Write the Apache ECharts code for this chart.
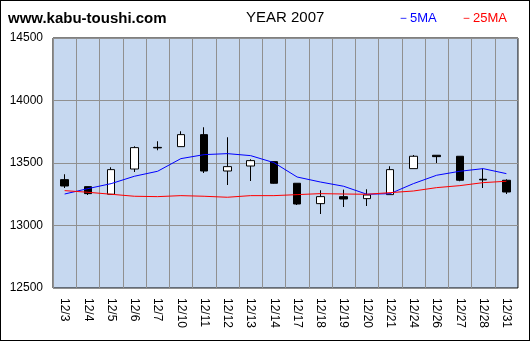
<!DOCTYPE html>
<html><head><meta charset="utf-8">
<script src="https://cdn.jsdelivr.net/npm/echarts@6/dist/echarts.min.js"></script>
<style>html,body{margin:0;padding:0;background:#fff}#c{width:530px;height:341px;box-sizing:border-box;border:1px solid #000}</style>
</head><body><div id="c"></div>
<script>
const categories = ['12/3','12/4','12/5','12/6','12/7','12/10','12/11','12/12','12/13','12/14','12/17','12/18','12/19','12/20','12/21','12/24','12/26','12/27','12/28','12/31'];
const openV  = [13367,13311,13250,13452,13625,13631,13727,13436,13476,13511,13338,13175,13231,13215,13247,13455,13562,13554,13370,13362];
const closeV = [13316,13255,13447,13623,13621,13727,13436,13471,13519,13338,13172,13231,13212,13244,13447,13554,13551,13362,13365,13268];
const lowV   = [13300,13244,13250,13428,13602,13631,13420,13324,13356,13335,13164,13092,13148,13156,13247,13455,13500,13354,13300,13252];
const highV  = [13410,13311,13466,13634,13674,13754,13786,13706,13530,13511,13338,13282,13287,13290,13474,13564,13562,13554,13455,13370];
const ma5    = [13252,13295,13335,13394,13434,13535,13567,13575,13559,13503,13388,13348,13314,13250,13255,13335,13402,13434,13455,13415];
const ma25   = [13279,13266,13250,13234,13231,13239,13234,13226,13239,13239,13247,13255,13252,13250,13263,13276,13303,13319,13343,13354];
const yTicks = [12500,13000,13500,14000,14500];

const font = '"Liberation Sans", Arial, sans-serif';
const chart = echarts.init(document.getElementById('c'), null, {renderer:'canvas'});
chart.setOption({
  animation:false,
  backgroundColor:'#fff',
  grid:{left:52,top:37,right:11,bottom:52,show:true,backgroundColor:'#c6d8f0',borderColor:'#000',borderWidth:1},
  graphic:[
    {type:'text',left:7,top:10,style:{text:'www.kabu-toushi.com',font:'bold 15px '+font,fill:'#000'}},
    {type:'text',left:245,top:9,style:{text:'YEAR 2007',font:'15px '+font,fill:'#000'}},
    {type:'text',left:396,top:11,style:{text:'－5MA',font:'13px '+font,fill:'#0000ff'}},
    {type:'text',left:459,top:11,style:{text:'－25MA',font:'13px '+font,fill:'#ff0000'}}
  ],
  xAxis:{type:'category',data:categories,boundaryGap:true,
    axisLine:{show:false},axisTick:{show:false},
    axisLabel:{rotate:-90,interval:0,margin:10,fontSize:12,fontFamily:font,color:'#000'},
    splitLine:{show:true,interval:0,lineStyle:{color:'#909090',width:1}}},
  yAxis:{type:'value',min:yTicks[0],max:yTicks[yTicks.length-1],interval:500,
    axisLine:{show:false},axisTick:{show:false},
    axisLabel:{margin:10,fontSize:12,fontFamily:font,color:'#000',formatter:v=>String(v)},
    splitLine:{show:true,lineStyle:{color:'#909090',width:1}}},
  series:[
    {type:'candlestick',barWidth:8,
      data:categories.map((c,i)=>[openV[i],closeV[i],lowV[i],highV[i]]),
      itemStyle:{color:'#ffffff',color0:'#000000',borderColor:'#000000',borderColor0:'#000000',borderWidth:1}},
    {type:'line',data:ma5,showSymbol:false,lineStyle:{color:'#0000ff',width:1}},
    {type:'line',data:ma25,showSymbol:false,lineStyle:{color:'#ff0000',width:1}}
  ]
});
</script></body></html>
